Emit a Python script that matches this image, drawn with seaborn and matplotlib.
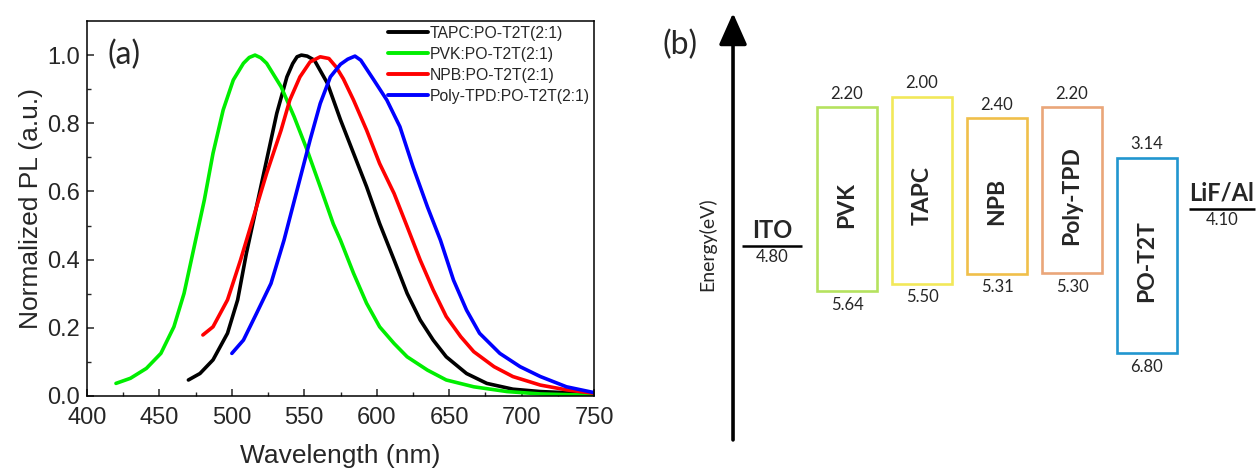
import numpy as np
import pandas as pd
import matplotlib
matplotlib.use("Agg")
import matplotlib.pyplot as plt
import seaborn as sns

# ---------------- data: panel (a) PL spectra ----------------
pvk_wl = [420, 430, 441, 451, 460, 467, 474, 481, 487, 494, 501, 508, 512, 516, 520, 524, 534,
          543, 552, 561, 570, 575, 584, 593, 602, 612, 621, 635, 648, 667, 690, 713, 750]
pvk_pl = [0.037, 0.052, 0.081, 0.125, 0.203, 0.301, 0.438, 0.575, 0.712, 0.839, 0.927, 0.976,
          0.993, 1.0, 0.992, 0.976, 0.907, 0.819, 0.721, 0.614, 0.505, 0.457, 0.36, 0.272,
          0.203, 0.154, 0.115, 0.076, 0.047, 0.027, 0.013, 0.006, 0.002]

tapc_wl = [470, 478, 487, 497, 504, 510, 517, 524, 531, 538, 542, 545, 548, 552, 557, 566, 575,
           584, 593, 602, 612, 621, 630, 639, 648, 662, 676, 694, 713, 750]
tapc_pl = [0.047, 0.066, 0.106, 0.184, 0.282, 0.418, 0.555, 0.692, 0.829, 0.936, 0.975, 0.995,
           1.0, 0.997, 0.985, 0.917, 0.81, 0.712, 0.614, 0.506, 0.399, 0.301, 0.223, 0.164,
           0.115, 0.066, 0.037, 0.02, 0.013, 0.006]

npb_wl = [480, 487, 497, 506, 515, 524, 534, 540, 547, 554, 561, 567, 572, 577, 584, 593, 602,
          612, 621, 630, 639, 648, 658, 667, 681, 694, 713, 731, 750]
npb_pl = [0.179, 0.203, 0.282, 0.399, 0.526, 0.653, 0.78, 0.868, 0.936, 0.98, 0.995, 0.99,
          0.965, 0.93, 0.868, 0.78, 0.682, 0.594, 0.497, 0.399, 0.311, 0.233, 0.174, 0.13,
          0.086, 0.057, 0.032, 0.018, 0.008]

polytpd_wl = [500, 508, 517, 527, 536, 545, 554, 561, 568, 575, 580, 585, 589, 598, 607, 616,
              625, 635, 644, 653, 662, 671, 685, 699, 713, 731, 750]
polytpd_pl = [0.125, 0.164, 0.242, 0.33, 0.457, 0.604, 0.751, 0.858, 0.936, 0.973, 0.988, 0.997,
              0.985, 0.927, 0.868, 0.79, 0.673, 0.555, 0.457, 0.34, 0.252, 0.184, 0.125, 0.086,
              0.057, 0.027, 0.01]

series_names = ["TAPC:PO-T2T(2:1)", "PVK:PO-T2T(2:1)", "NPB:PO-T2T(2:1)", "Poly-TPD:PO-T2T(2:1)"]
series_colors = ["#000000", "#00ee00", "#ff0000", "#0000ff"]

# ---------------- data: panel (b) energy levels ----------------
layers = ["PVK", "TAPC", "NPB", "Poly-TPD", "PO-T2T"]
lumo = [2.20, 2.00, 2.40, 2.20, 3.14]
homo = [5.64, 5.50, 5.31, 5.30, 6.80]
layer_colors = ["#b5e25f", "#f2e85a", "#f0bf4a", "#eaa679", "#2196cf"]
electrodes = ["ITO", "LiF/Al"]
work_fn = [4.80, 4.10]

# ---------------- figure ----------------
sns.set_theme(style="ticks")
plt.rcParams["font.family"] = ["Liberation Sans", "DejaVu Sans"]

fig = plt.figure(figsize=(12.6, 4.68), dpi=100)
axa = fig.add_axes([87 / 1260, 1 - 396 / 468, 507 / 1260, 375 / 468])

frames = []
for name, wl, pl in zip(series_names,
                        [tapc_wl, pvk_wl, npb_wl, polytpd_wl],
                        [tapc_pl, pvk_pl, npb_pl, polytpd_pl]):
    frames.append(pd.DataFrame({"wl": wl, "pl": pl, "sample": name}))
df = pd.concat(frames, ignore_index=True)

sns.lineplot(data=df, x="wl", y="pl", hue="sample", hue_order=series_names,
             palette=dict(zip(series_names, series_colors)), linewidth=2.6,
             sort=False, ax=axa, legend=True)

axa.set_xlim(400, 750)
axa.set_ylim(0, 1.1)
axa.set_xticks(np.arange(400, 751, 50))
axa.set_xticks(np.arange(425, 751, 50), minor=True)
axa.set_yticks(np.arange(0, 1.01, 0.2))
axa.set_yticks(np.arange(0.1, 1.1, 0.2), minor=True)
axa.set_yticklabels([f"{v:.1f}" for v in np.arange(0, 1.01, 0.2)])
axa.tick_params(which="major", direction="in", length=5, width=1.1, labelsize=17,
                top=False, right=False)
axa.tick_params(axis="x", which="major", pad=8)
axa.tick_params(axis="y", which="major", pad=5)
axa.tick_params(which="minor", direction="in", length=3, width=1.0, top=False, right=False)
for s in axa.spines.values():
    s.set_linewidth(1.1)
    s.set_color("black")
axa.set_xlabel("Wavelength (nm)", fontsize=19, labelpad=11)
axa.set_ylabel("Normalized PL (a.u.)", fontsize=19, labelpad=3)
axa.text(0.04, 1.0 / 1.1, "(a)", transform=axa.transAxes, fontsize=23,
         family="Lato", va="center", ha="left")

leg = axa.legend(loc="upper left", bbox_to_anchor=(0.585, 1.0), frameon=False,
                 fontsize=11.3, handlelength=2.5, handletextpad=0.15,
                 labelspacing=0.38, borderpad=0.3, borderaxespad=0.0)
for h in leg.get_lines():
    h.set_linewidth(2.8)

# ---------------- panel (b) ----------------
axb = fig.add_axes([620 / 1260, 0, 640 / 1260, 1])
axb.set_xlim(-2.027, 6.507)
axb.set_ylim(8.95, 0.19)
axb.axis("off")

pos = np.arange(1, len(layers) + 1)
axb.bar(pos, np.array(homo) - np.array(lumo), bottom=lumo, width=0.81,
        fill=False, edgecolor=layer_colors, linewidth=1.9)

efont = "Lato"
for x, name, lo, hi in zip(pos, layers, lumo, homo):
    axb.annotate(name, (x, (lo + hi) / 2), xytext=(0, -4), textcoords="offset points",
                 rotation=90, ha="center", va="center",
                 fontsize=16.5, family=efont, fontweight="bold")
    axb.annotate(f"{lo:.2f}", (x, lo), xytext=(0, 4), textcoords="offset points",
                 ha="center", va="bottom", fontsize=12, family=efont)
    axb.annotate(f"{hi:.2f}", (x, hi), xytext=(0, -4), textcoords="offset points",
                 ha="center", va="top", fontsize=12, family=efont)

el_pos = [0, len(layers) + 1]
el_w = [0.8, 0.88]
for x, name, wf, w in zip(el_pos, electrodes, work_fn, el_w):
    axb.hlines(wf, x - w / 2, x + w / 2, color="black", linewidth=1.8)
    axb.annotate(name, (x, wf), xytext=(0, 3), textcoords="offset points",
                 ha="center", va="bottom", fontsize=17, family=efont, fontweight="bold")
    axb.annotate(f"{wf:.2f}", (x, wf), xytext=(0, -2), textcoords="offset points",
                 ha="center", va="top", fontsize=12, family=efont)

axb.annotate("", xy=(0.1766, 0.972), xytext=(0.1766, 0.06), xycoords="axes fraction",
             arrowprops=dict(arrowstyle="-|>,head_length=0.45,head_width=0.2",
                             lw=2.6, color="black", mutation_scale=43,
                             shrinkA=0, shrinkB=0))
axb.text(0.094, 0.904, "(b)", transform=axb.transAxes, fontsize=23, family=efont,
         ha="center", va="center")
axb.text(0.136, 0.478, "Energy(eV)", transform=axb.transAxes, fontsize=14,
         family=efont, rotation=90, ha="center", va="center")

fig.savefig("out.png", dpi=100)
